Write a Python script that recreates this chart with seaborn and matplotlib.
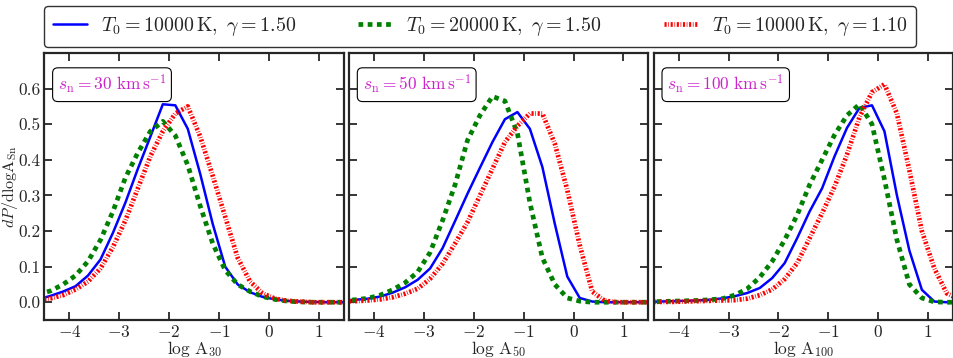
import numpy as np
import pandas as pd
import matplotlib
matplotlib.use("Agg")
import matplotlib.pyplot as plt
import seaborn as sns

# ---- data ----
log_a = [-4.625, -4.375, -4.125, -3.875, -3.625, -3.375, -3.125, -2.875, -2.625,
         -2.375, -2.125, -1.875, -1.625, -1.375, -1.125, -0.875, -0.625, -0.375,
         -0.125, 0.125, 0.375, 0.625, 0.875, 1.125, 1.375, 1.625]

speeds = [30, 50, 100]
series_labels = [r"$T_0=10000\,\mathrm{K},\ \gamma=1.50$",
                 r"$T_0=20000\,\mathrm{K},\ \gamma=1.50$",
                 r"$T_0=10000\,\mathrm{K},\ \gamma=1.10$"]

s30_blue = [0.008, 0.018, 0.03, 0.045, 0.075, 0.12, 0.195, 0.28, 0.375, 0.465, 0.556, 0.553, 0.487,
            0.36, 0.22, 0.10, 0.05, 0.028, 0.015, 0.008, 0.004, 0.002, 0.001, 0.0, 0.0, 0.0]
s30_green = [0.022, 0.032, 0.05, 0.075, 0.115, 0.175, 0.255, 0.35, 0.42, 0.48, 0.508, 0.468, 0.385,
             0.27, 0.165, 0.09, 0.05, 0.03, 0.016, 0.008, 0.003, 0.001, 0.0, 0.0, 0.0, 0.0]
s30_red = [0.008, 0.011, 0.02, 0.036, 0.058, 0.095, 0.155, 0.23, 0.32, 0.41, 0.48, 0.53, 0.55,
           0.465, 0.355, 0.24, 0.125, 0.058, 0.025, 0.01, 0.004, 0.002, 0.0, 0.0, 0.0, 0.0]

s50_blue = [0.005, 0.007, 0.01, 0.016, 0.027, 0.042, 0.063, 0.095, 0.152, 0.228, 0.305, 0.378, 0.45,
            0.514, 0.534, 0.487, 0.38, 0.22, 0.072, 0.012, 0.002, 0.0, 0.0, 0.0, 0.0, 0.0]
s50_green = [0.004, 0.007, 0.011, 0.02, 0.035, 0.055, 0.085, 0.14, 0.23, 0.33, 0.455, 0.525, 0.578,
             0.565, 0.475, 0.28, 0.125, 0.05, 0.012, 0.003, 0.0, 0.0, 0.0, 0.0, 0.0, 0.0]
s50_red = [0.002, 0.003, 0.005, 0.008, 0.014, 0.024, 0.038, 0.066, 0.108, 0.165, 0.225, 0.3, 0.375,
           0.45, 0.495, 0.53, 0.53, 0.445, 0.315, 0.16, 0.03, 0.004, 0.0, 0.0, 0.0, 0.0]

s100_blue = [0.001, 0.002, 0.003, 0.004, 0.005, 0.007, 0.011, 0.017, 0.026, 0.04, 0.068, 0.11, 0.18,
             0.255, 0.32, 0.41, 0.49, 0.546, 0.553, 0.48, 0.3, 0.145, 0.035, 0.002, 0.0, 0.0]
s100_green = [0.001, 0.002, 0.003, 0.004, 0.005, 0.007, 0.01, 0.02, 0.038, 0.07, 0.115, 0.175, 0.245,
              0.33, 0.40, 0.47, 0.525, 0.556, 0.50, 0.345, 0.175, 0.05, 0.012, 0.001, 0.0, 0.0]
s100_red = [0.001, 0.001, 0.001, 0.002, 0.003, 0.004, 0.005, 0.006, 0.01, 0.02, 0.036, 0.065, 0.11,
            0.18, 0.25, 0.325, 0.415, 0.52, 0.59, 0.612, 0.53, 0.37, 0.20, 0.095, 0.025, 0.008]

panel_data = {30: [s30_blue, s30_green, s30_red],
              50: [s50_blue, s50_green, s50_red],
              100: [s100_blue, s100_green, s100_red]}

xticks = [-4, -3, -2, -1, 0, 1]
yticks = [0.0, 0.1, 0.2, 0.3, 0.4, 0.5, 0.6]
ytick_labels = ["0.0", "0.1", "0.2", "0.3", "0.4", "0.5", "0.6"]

# ---- style ----
sns.set_style("ticks")
plt.rcParams["font.family"] = ["cmr10", "DejaVu Serif"]
plt.rcParams["mathtext.fontset"] = "cm"
plt.rcParams["axes.formatter.use_mathtext"] = True
plt.rcParams["axes.unicode_minus"] = True

colors = ["#0000ff", "#008000", "#ff0000"]
styles = [dict(lw=1.8, ls="-"),
          dict(lw=3.4, dashes=(1.0, 0.95)),
          dict(lw=3.4, dashes=(0.45, 0.35, 0.15, 0.35))]

fig, axes = plt.subplots(1, 3, figsize=(9.54, 3.58), dpi=100, sharey=True)
fig.subplots_adjust(left=0.0465, right=0.999, bottom=0.106, top=0.852, wspace=0.018)

for ax, sp in zip(axes, speeds):
    for vals, col, st, lab in zip(panel_data[sp], colors, styles, series_labels):
        df = pd.DataFrame({"x": log_a, "y": vals})
        sns.lineplot(data=df, x="x", y="y", ax=ax, color=col, label=lab,
                     legend=False, **st)
    ax.set_xlim(-4.5, 1.5)
    ax.set_ylim(-0.05, 0.7)
    ax.set_xticks(xticks)
    ax.set_yticks(yticks)
    ax.tick_params(direction="in", length=6, width=1.3, top=True, right=True,
                   labelsize=12.5)
    ax.tick_params(axis="x", pad=3)
    ax.tick_params(axis="y", pad=3)
    for s in ax.spines.values():
        s.set_linewidth(1.6)
    ax.set_xlabel(r"$\log\,\mathrm{A}_{%d}$" % sp, fontsize=12.5, labelpad=-1)
    ax.set_ylabel("")
    ax.text(0.045, 0.925, r"$s_{\mathrm{n}}=%d\ \mathrm{km\,s^{-1}}$" % sp,
            transform=ax.transAxes, ha="left", va="top", fontsize=12.5,
            color="#cc22cc",
            bbox=dict(boxstyle="round,pad=0.3", fc="white", ec="black", lw=0.8))

axes[0].set_ylabel(r"$dP/\mathrm{dlogA_{Sn}}$", fontsize=11.5)
axes[0].yaxis.set_label_coords(-0.082, 0.5)
axes[0].set_yticklabels(ytick_labels)

handles, labels = axes[0].get_legend_handles_labels()
fig.legend(handles, labels, loc="center", bbox_to_anchor=(0.503, 0.927), ncol=3,
           fontsize=14.4, frameon=True, fancybox=True, edgecolor="black",
           handlelength=1.7, handletextpad=0.7, columnspacing=3.1,
           borderpad=0.45)

fig.savefig("out.png", dpi=100)
